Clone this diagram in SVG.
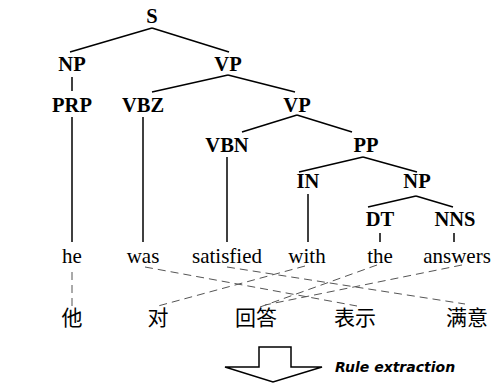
<svg xmlns="http://www.w3.org/2000/svg" width="496" height="383" viewBox="0 0 496 383">
<style>
.nt{font-weight:bold;font-size:20.5px;text-anchor:middle;fill:#000}
.w{font-size:21px;text-anchor:middle;fill:#000}
.zh{font-size:21px;text-anchor:middle;fill:#000}
.t line{stroke:#000;stroke-width:1.5}
.d line{stroke:#555;stroke-width:1;stroke-dasharray:8 5}
.lbl{font-weight:bold;font-style:italic;font-size:14px;fill:#000}
</style>
<rect width="496" height="383" fill="#fff"/>
<g id="connectors">
<g class="t">
<line x1="152" y1="28" x2="70" y2="52"/>
<line x1="152" y1="28" x2="229" y2="52"/>
<line x1="72" y1="77" x2="72" y2="91"/>
<line x1="228" y1="75" x2="152" y2="92"/>
<line x1="228" y1="75" x2="295" y2="92"/>
<line x1="72" y1="117" x2="72" y2="242"/>
<line x1="143" y1="117" x2="143" y2="242"/>
<line x1="297" y1="115" x2="242" y2="132"/>
<line x1="297" y1="115" x2="352" y2="132"/>
<line x1="227" y1="157" x2="227" y2="242"/>
<line x1="363" y1="157" x2="299" y2="172"/>
<line x1="363" y1="157" x2="417" y2="172"/>
<line x1="308" y1="194" x2="308" y2="242"/>
<line x1="416" y1="196" x2="368" y2="207"/>
<line x1="416" y1="196" x2="453" y2="207"/>
<line x1="380" y1="233" x2="380" y2="242"/>
<line x1="454" y1="233" x2="454" y2="242"/>
</g>
<g class="d">
<line x1="72" y1="272" x2="72" y2="308"/>
<line x1="145" y1="267" x2="357" y2="306"/>
<line x1="227" y1="267" x2="465" y2="304"/>
<line x1="305" y1="266" x2="158" y2="306"/>
<line x1="377" y1="265" x2="260" y2="307"/>
<line x1="462" y1="265" x2="265" y2="305"/>
</g>
</g>
<g font-family="Liberation Serif, DejaVu Serif, serif">
<g id="n-S"><text class="nt" x="152" y="23">S</text></g>
<g id="n-NP1"><text class="nt" x="72" y="71">NP</text></g>
<g id="n-VP1"><text class="nt" x="228" y="71">VP</text></g>
<g id="n-PRP"><text class="nt" x="72" y="112">PRP</text></g>
<g id="n-VBZ"><text class="nt" x="143" y="112">VBZ</text></g>
<g id="n-VP2"><text class="nt" x="297" y="112">VP</text></g>
<g id="n-VBN"><text class="nt" x="227" y="152">VBN</text></g>
<g id="n-PP"><text class="nt" x="366" y="152">PP</text></g>
<g id="n-IN"><text class="nt" x="308" y="188">IN</text></g>
<g id="n-NP2"><text class="nt" x="417" y="188">NP</text></g>
<g id="n-DT"><text class="nt" x="380" y="226">DT</text></g>
<g id="n-NNS"><text class="nt" x="455" y="226">NNS</text></g>
<g id="w-he"><text class="w" x="72" y="263">he</text></g>
<g id="w-was"><text class="w" x="143" y="263">was</text></g>
<g id="w-satisfied"><text class="w" x="227" y="263">satisfied</text></g>
<g id="w-with"><text class="w" x="307" y="263">with</text></g>
<g id="w-the"><text class="w" x="380" y="263">the</text></g>
<g id="w-answers"><text class="w" x="457" y="263">answers</text></g>
</g>
<g font-family="Noto Sans CJK SC, sans-serif">
<g id="z-ta"><text class="zh" x="72" y="325">他</text></g>
<g id="z-dui"><text class="zh" x="158" y="325">对</text></g>
<g id="z-huida"><text class="zh" x="256" y="325">回答</text></g>
<g id="z-biaoshi"><text class="zh" x="355" y="325">表示</text></g>
<g id="z-manyi"><text class="zh" x="467" y="325">满意</text></g>
</g>
<g id="arrow">
<polygon points="259,347 291,347 291,367 322,367 273,382 225,367 259,367" fill="#fff" stroke="#000" stroke-width="1.5"/>
<text class="lbl" font-family="DejaVu Sans, sans-serif" x="335" y="372">Rule extraction</text>
</g>
</svg>
